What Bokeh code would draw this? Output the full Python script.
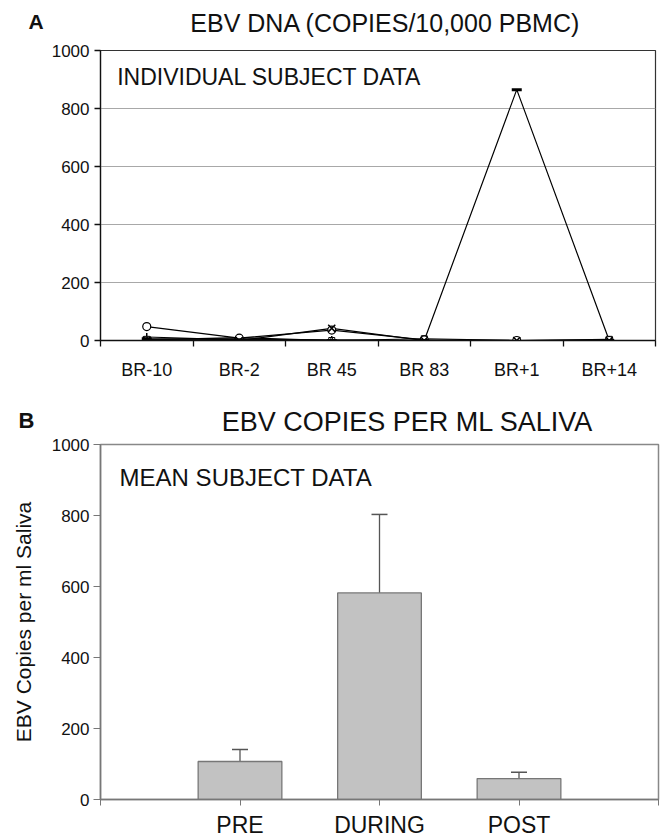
from bokeh.plotting import figure
from bokeh.layouts import column
from bokeh.models import (Range1d, FixedTicker, Label, ColumnDataSource, Whisker, TeeHead)
from bokeh.embed import file_html
from bokeh.resources import INLINE

FONT = "Liberation Sans"
W = 667

# ---------------- data ----------------
visits = ["BR-10", "BR-2", "BR 45", "BR 83", "BR+1", "BR+14"]
subj_circle = [48, 8, 36, 2, 0, 0]
subj_x = [0, 0, 42, 0, 0, 0]
subj_dash = [6, 3, 0, 0, 865, 0]
subj_plus = [12, 2, 2, 0, 0, 0]
subj_square = [4, 6, 0, 6, 0, 4]
subj_triangle = [2, 10, 0, 0, 0, 2]

phases = ["PRE", "DURING", "POST"]
saliva_mean = [107, 582, 59]
saliva_err = [34, 221, 18]

yticks = [0, 200, 400, 600, 800, 1000]


def header(h, items):
    """A plain strip (no axes) whose frame fills the canvas, holding text labels."""
    hp = figure(width=W, height=h, output_backend="svg", toolbar_location=None,
                x_range=Range1d(0, W), y_range=Range1d(h, 0),
                x_axis_type=None, y_axis_type=None, frame_align=False,
                min_border_left=0, min_border_right=0, min_border_top=0, min_border_bottom=0)
    hp.outline_line_color = None
    hp.grid.grid_line_color = None
    for x, y, txt, size, style, align in items:
        hp.add_layout(Label(x=x, y=y, text=txt, text_font=FONT, text_font_size=size,
                            text_font_style=style, text_color="#111111",
                            text_baseline="alphabetic", text_align=align))
    return hp


# ---------------- header A ----------------
ha = header(40, [(28, 21, "A", "21px", "bold", "left"),
                 (385, 22, "EBV DNA (COPIES/10,000 PBMC)", "25px", "normal", "center")])

# ---------------- panel A ----------------
xa = [i + 0.5 for i in range(len(visits))]
pa = figure(width=W, height=342, output_backend="svg", toolbar_location=None,
            x_range=Range1d(0, len(visits)), y_range=Range1d(0, 1000), frame_align=False,
            min_border_left=100, min_border_right=12, min_border_top=10, min_border_bottom=42)
pa.outline_line_color = "#333333"
pa.outline_line_width = 1.2
pa.xgrid.grid_line_color = None
pa.ygrid.ticker = FixedTicker(ticks=[200, 400, 600, 800])
pa.ygrid.grid_line_color = "#a8a8a8"
pa.ygrid.grid_line_width = 1.2

pa.xaxis.ticker = FixedTicker(ticks=xa, minor_ticks=list(range(len(visits) + 1)))
pa.xaxis.major_label_overrides = {x: v for x, v in zip(xa, visits)}
pa.xaxis.major_tick_line_color = None
pa.xaxis.minor_tick_in = 0
pa.xaxis.minor_tick_out = 6
pa.xaxis.minor_tick_line_color = "#111111"
pa.xaxis.minor_tick_line_width = 1.3
pa.xaxis.axis_line_color = "#111111"
pa.xaxis.axis_line_width = 1.3
pa.xaxis.major_label_standoff = 13
pa.xaxis.major_label_text_font = FONT
pa.xaxis.major_label_text_font_size = "18px"
pa.xaxis.major_label_text_color = "#111111"

pa.yaxis.ticker = FixedTicker(ticks=yticks)
pa.yaxis.minor_tick_line_color = None
pa.yaxis.major_tick_in = 0
pa.yaxis.major_tick_out = 6
pa.yaxis.major_tick_line_color = "#111111"
pa.yaxis.major_tick_line_width = 1.3
pa.yaxis.axis_line_color = "#111111"
pa.yaxis.axis_line_width = 1.3
pa.yaxis.major_label_standoff = 5
pa.yaxis.major_label_text_font = FONT
pa.yaxis.major_label_text_font_size = "17px"
pa.yaxis.major_label_text_color = "#111111"

for ys in [subj_plus, subj_square, subj_triangle, subj_circle, subj_x, subj_dash]:
    pa.line(xa, ys, line_color="black", line_width=1.2)
pa.scatter(xa, subj_plus, marker="cross", size=8, line_color="black", line_width=1.5)
pa.scatter(xa, subj_square, marker="square", size=6, line_color="black", fill_color="white", line_width=1)
pa.scatter(xa, subj_triangle, marker="triangle", size=6, line_color="black", fill_color="white", line_width=1)
pa.scatter(xa, subj_circle, marker="circle", size=8, line_color="black", fill_color="white", line_width=1.2)
pa.scatter(xa, subj_x, marker="x", size=10, line_color="black", line_width=1.5)
pa.scatter(xa, subj_dash, marker="dash", size=10, line_color="black", line_width=3)

pa.add_layout(Label(x=0.18, y=910, text="INDIVIDUAL SUBJECT DATA", text_font=FONT,
                    text_color="#111111", text_font_size="23px",
                    text_baseline="alphabetic", text_align="left"))

# ---------------- header B ----------------
hb = header(54, [(18, 38, "B", "22px", "bold", "left"),
                 (407, 39, "EBV COPIES PER ML SALIVA", "27px", "normal", "center")])

# ---------------- panel B ----------------
xb = [i + 1 for i in range(len(phases))]
pb = figure(width=W, height=404, output_backend="svg", toolbar_location=None,
            x_range=Range1d(0, len(phases) + 1), y_range=Range1d(0, 1000), frame_align=False,
            min_border_left=100, min_border_right=9, min_border_top=8, min_border_bottom=40)
pb.outline_line_color = "#888888"
pb.outline_line_width = 1.5
pb.grid.grid_line_color = None

pb.xaxis.ticker = FixedTicker(ticks=xb, minor_ticks=[0, len(phases) + 1])
pb.xaxis.major_label_overrides = {x: v for x, v in zip(xb, phases)}
pb.xaxis.major_tick_in = 0
pb.xaxis.major_tick_out = 6
pb.xaxis.minor_tick_in = 0
pb.xaxis.minor_tick_out = 6
pb.xaxis.major_tick_line_color = "#777777"
pb.xaxis.minor_tick_line_color = "#777777"
pb.xaxis.axis_line_color = "#777777"
pb.xaxis.axis_line_width = 1.5
pb.xaxis.major_label_standoff = 6
pb.xaxis.major_label_text_font = FONT
pb.xaxis.major_label_text_font_size = "23px"
pb.xaxis.major_label_text_color = "#111111"

pb.yaxis.ticker = FixedTicker(ticks=yticks)
pb.yaxis.minor_tick_line_color = None
pb.yaxis.major_tick_in = 0
pb.yaxis.major_tick_out = 7
pb.yaxis.major_tick_line_color = "#777777"
pb.yaxis.axis_line_color = "#777777"
pb.yaxis.axis_line_width = 1.5
pb.yaxis.major_label_standoff = 4
pb.yaxis.major_label_text_font = FONT
pb.yaxis.major_label_text_font_size = "17px"
pb.yaxis.major_label_text_color = "#111111"
pb.yaxis.axis_label = "EBV Copies per ml Saliva"
pb.yaxis.axis_label_text_font = FONT
pb.yaxis.axis_label_text_font_size = "21px"
pb.yaxis.axis_label_text_font_style = "normal"
pb.yaxis.axis_label_text_color = "#111111"
pb.yaxis.axis_label_standoff = 14

src = ColumnDataSource(dict(x=xb, top=saliva_mean,
                            upper=[m + e for m, e in zip(saliva_mean, saliva_err)]))
pb.vbar(x="x", top="top", width=0.6, source=src, fill_color="#c2c2c2",
        line_color="#777777", line_width=1.3)
pb.add_layout(Whisker(source=src, base="x", lower="top", upper="upper", dimension="height",
                      line_color="#555555", line_width=1.3,
                      upper_head=TeeHead(size=16, line_color="#555555", line_width=1.5),
                      lower_head=None))

pb.add_layout(Label(x=0.137, y=906, text="MEAN SUBJECT DATA", text_font=FONT,
                    text_color="#111111", text_font_size="24px",
                    text_baseline="alphabetic", text_align="left"))

layout = column(ha, pa, hb, pb, spacing=0)
open("out.html", "w").write(file_html(layout, INLINE))
